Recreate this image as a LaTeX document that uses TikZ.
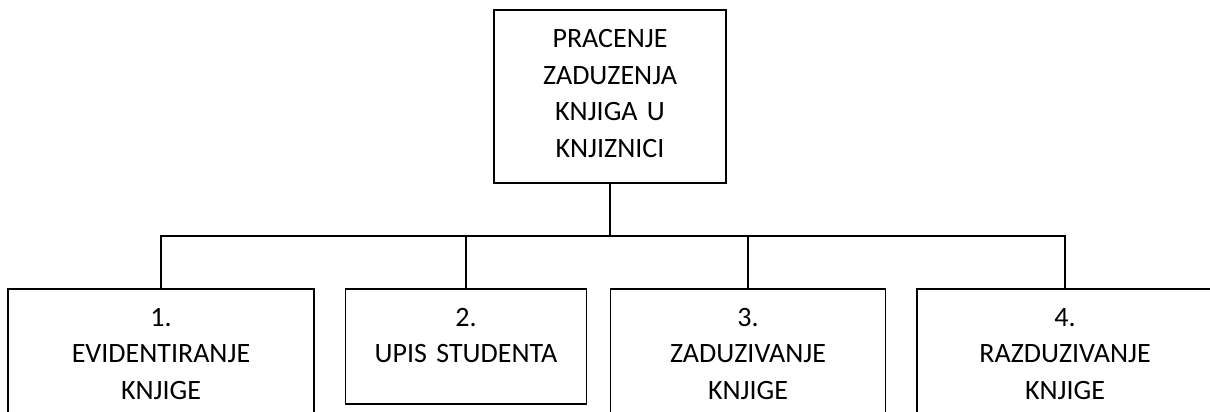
\documentclass[tikz,border=0pt]{standalone}
\usepackage{fontspec}
\setmainfont{Carlito}
\tikzset{
    procbox/.style={draw, line width=1.4pt, anchor=base, align=center, inner sep=0pt,
        font=\fontsize{28}{36.5}\selectfont, text height=37pt},
    link/.style={line width=1.4pt}
}
\begin{document}
\begin{tikzpicture}[x=1pt,y=-1pt]
    \useasboundingbox (0,0) rectangle (1210,412);
    % Root
    \node[procbox, text width=232pt, text height=38pt, text depth=135pt] (root) at (610,48)
        {PRACENJE\\ZADUZENJA\\KNJIGA U\\KNJIZNICI};
    % Subprocesses
    \node[procbox, text width=306pt, text depth=130pt] (evid) at (161,326) {1.\\EVIDENTIRANJE\\KNJIGE};
    \node[procbox, text width=241pt, text depth=78pt] (upis) at (466,326) {2.\\UPIS STUDENTA};
    \node[procbox, text width=275pt, text depth=130pt] (zad) at (748,326) {3.\\ZADUZIVANJE\\KNJIGE};
    \node[procbox, text width=296pt, text depth=130pt] (razd) at (1065,326) {4.\\RAZDUZIVANJE\\KNJIGE};
    % Links
    \coordinate (bus) at (610,236);
    \foreach \sub in {evid,upis,zad,razd}
        \draw[link] (root.south) -- (root.south |- bus) -| (\sub.north);
\end{tikzpicture}
\end{document}
